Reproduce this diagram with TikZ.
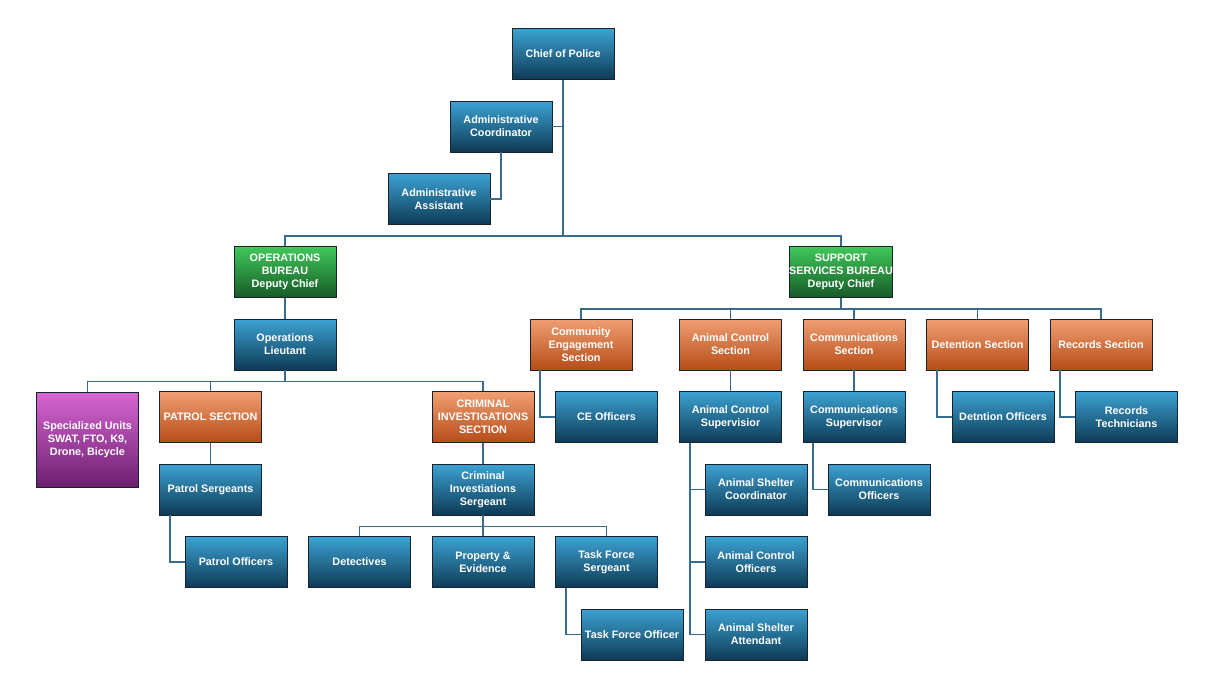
\documentclass[tikz,border=0pt]{standalone}
\usepackage{fontspec}
\setmainfont{Liberation Sans}
\usetikzlibrary{calc,shadings}

\definecolor{blueT}{HTML}{3CA2D3}
\definecolor{blueB}{HTML}{0E3A55}
\definecolor{orangeT}{HTML}{F09F72}
\definecolor{orangeB}{HTML}{B64C18}
\definecolor{greenT}{HTML}{3FC85A}
\definecolor{greenB}{HTML}{175A26}
\definecolor{purpleT}{HTML}{D866D4}
\definecolor{purpleB}{HTML}{6C1F6E}
\definecolor{boxline}{HTML}{16232C}
\definecolor{linkc}{HTML}{386C8C}

\begin{document}
\begin{tikzpicture}[
    x=1pt, y=-1pt,
    font=\bfseries\fontsize{10.8}{13}\selectfont,
    box/.style={draw=boxline, line width=0.9pt, text=white, align=center,
        inner sep=0pt, minimum width=102pt, minimum height=51pt,
        top color=blueT, bottom color=blueB},
    section/.style={box, top color=orangeT, bottom color=orangeB},
    bureau/.style={box, top color=greenT, bottom color=greenB},
    unitbox/.style={box, minimum height=95pt, top color=purpleT, bottom color=purpleB},
    link/.style={draw=linkc, line width=1.9pt}
]
\useasboundingbox (0,0) rectangle (1231,683);

% top of the chart
\node[box] (chief) at (563,54) {Chief of Police};
\node[box] (adcoord) at (501,126.5) {Administrative\\Coordinator};
\node[box] (adasst) at (439,199) {Administrative\\Assistant};
\coordinate (topbus) at (563,236);

% operations side
\node[bureau] (ops) at (285,272) {OPERATIONS\\BUREAU\\Deputy Chief};
\node[box] (oplt) at (285,344.5) {Operations\\Lieutant};
\node[unitbox] (spec) at (87.5,439.5) {Specialized Units\\SWAT, FTO, K9,\\Drone, Bicycle};
\node[section] (patrol) at (210.5,417) {PATROL SECTION};
\node[section] (cis) at (483,417) {CRIMINAL\\INVESTIGATIONS\\SECTION};
\node[box] (psgt) at (210.5,489.5) {Patrol Sergeants};
\node[box] (pofc) at (236,562) {Patrol Officers};
\node[box] (cisgt) at (483,489.5) {Criminal\\Investiations\\Sergeant};
\node[box] (det) at (359.5,562) {Detectives};
\node[box] (prop) at (483,562) {Property \&\\Evidence};
\node[box] (tfsgt) at (606.5,562) {Task Force\\Sergeant};
\node[box] (tfofc) at (632,634.5) {Task Force Officer};

% support services side
\node[bureau] (ssb) at (841,272) {SUPPORT\\SERVICES BUREAU\\Deputy Chief};
\node[section] (ces) at (581,344.5) {Community\\Engagement\\Section};
\node[section] (acs) at (730.5,344.5) {Animal Control\\Section};
\node[section] (coms) at (854,344.5) {Communications\\Section};
\node[section] (dets) at (977.5,344.5) {Detention Section};
\node[section] (recs) at (1101,344.5) {Records Section};
\node[box] (ceofc) at (606.5,417) {CE Officers};
\node[box] (acsup) at (730.5,417) {Animal Control\\Supervisior};
\node[box] (comsup) at (854,417) {Communications\\Supervisor};
\node[box] (detofc) at (1003,417) {Detntion Officers};
\node[box] (rectech) at (1126.5,417) {Records\\Technicians};
\node[box] (ascoord) at (756,489.5) {Animal Shelter\\Coordinator};
\node[box] (acofc) at (756,562) {Animal Control\\Officers};
\node[box] (asatt) at (756,634.5) {Animal Shelter\\Attendant};
\node[box] (comofc) at (879,489.5) {Communications\\Officers};

% connectors
\draw[link] (chief.south) -- (topbus);
\draw[link] (adcoord.east) -- (adcoord.east -| chief.south);
\draw[link] (adcoord.south) |- (adasst.east);
\draw[link] (ops.north) |- (topbus) -| (ssb.north);

\draw[link] (ops) -- (oplt);
\foreach \n in {spec,patrol,cis}
    \draw[link] (oplt.south) -- ++(0,11) -| (\n.north);
\draw[link] (patrol) -- (psgt);
\draw[link] ($(psgt.south west)+(10.5,0)$) |- (pofc.west);
\draw[link] (cis) -- (cisgt);
\foreach \n in {det,prop,tfsgt}
    \draw[link] (cisgt.south) -- ++(0,11) -| (\n.north);
\draw[link] ($(tfsgt.south west)+(11,0)$) |- (tfofc.west);

\foreach \n in {ces,acs,coms,dets,recs}
    \draw[link] (ssb.south) -- ++(0,11) -| (\n.north);
\foreach \n/\m in {ces/ceofc,dets/detofc,recs/rectech}
    \draw[link] ($(\n.south west)+(10.5,0)$) |- (\m.west);
\draw[link] (acs) -- (acsup);
\draw[link] (coms) -- (comsup);
\foreach \n in {ascoord,acofc,asatt}
    \draw[link] ($(acsup.south west)+(11,0)$) |- (\n.west);
\draw[link] ($(comsup.south west)+(10,0)$) |- (comofc.west);

\end{tikzpicture}
\end{document}
